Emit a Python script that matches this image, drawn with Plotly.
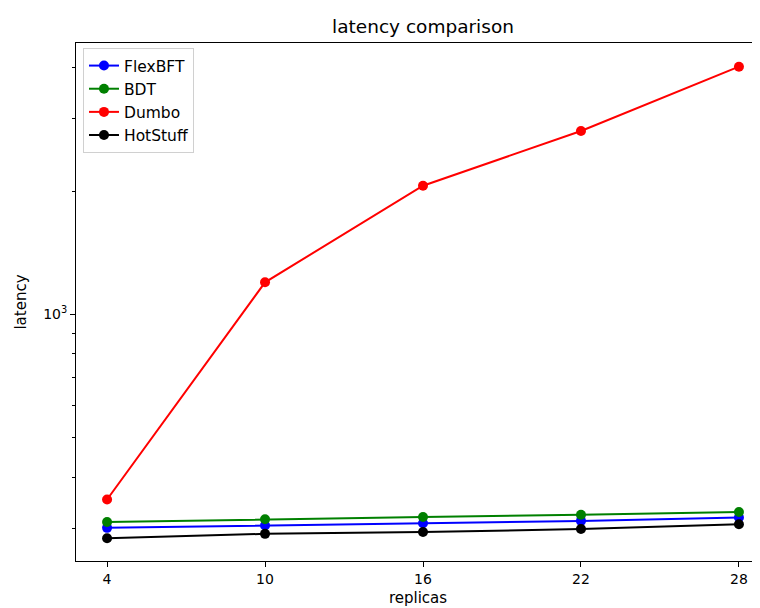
import plotly.graph_objects as go

replicas = [4, 10, 16, 22, 28]
flexbft = [301, 305, 309, 313, 319]
bdt = [311, 316, 320, 324, 329]
dumbo = [353, 1197, 2061, 2803, 4024]
hotstuff = [284, 291, 294, 299, 307]

series = [
    ("FlexBFT", flexbft, "blue"),
    ("BDT", bdt, "green"),
    ("Dumbo", dumbo, "red"),
    ("HotStuff", hotstuff, "black"),
]

fig = go.Figure()
for name, vals, color in series:
    fig.add_trace(go.Scatter(
        x=replicas, y=vals, name=name, mode="lines+markers",
        line=dict(color=color, width=2),
        marker=dict(color=color, size=10),
    ))

font = "DejaVu Sans, sans-serif"
W, H = 752, 600  # page body has an 8px margin
fig.update_layout(
    width=W, height=H,
    margin=dict(l=68, r=0, t=35, b=47, autoexpand=False),
    paper_bgcolor="white", plot_bgcolor="white",
    font=dict(family=font, size=15, color="black"),
    title=dict(text="latency comparison", x=(423 - 8) / W, xref="container", xanchor="center",
               y=1 - 19 / H, yref="container", yanchor="middle",
               font=dict(size=18.5, family=font)),
    legend=dict(x=0.0102, y=1 - 5 / 518, xanchor="left", yanchor="top",
                bgcolor="white", bordercolor="#d0d0d0", borderwidth=1,
                font=dict(size=15.5, family=font), itemwidth=30,
                tracegroupgap=2),
    showlegend=True,
)
fig.update_xaxes(
    range=[2.82, 28.80], tickvals=replicas, ticktext=[str(v) for v in replicas],
    showline=True, linecolor="black", linewidth=1, mirror=True, automargin=False,
    ticks="outside", ticklen=5, tickcolor="black", showgrid=False, zeroline=False,
    tickfont=dict(size=14),
    title=dict(text="replicas", standoff=6, font=dict(size=15)),
)
fig.update_yaxes(
    type="log", range=[2.3976, 3.6625],
    tickvals=[1000], ticktext=["10<sup>3</sup>"],
    showline=True, linecolor="black", linewidth=1, mirror=False, automargin=False,
    ticks="outside", ticklen=5, tickcolor="black", showgrid=False, zeroline=False,
    tickfont=dict(size=14),
    minor=dict(tickvals=[300, 400, 500, 600, 700, 800, 900, 2000, 3000, 4000],
               ticks="outside", ticklen=3, tickcolor="black", showgrid=False),
    title=dict(text="latency", standoff=12, font=dict(size=15)),
)
fig.write_html("out.html")
